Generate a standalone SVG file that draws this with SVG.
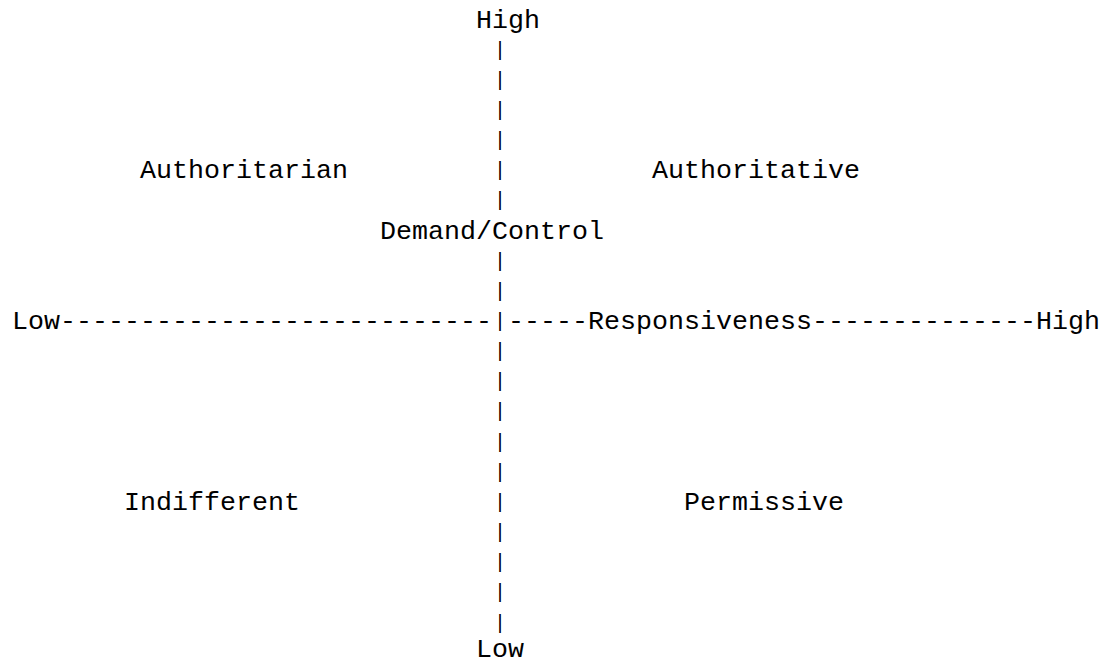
<svg xmlns="http://www.w3.org/2000/svg" width="1102" height="665" viewBox="0 0 1102 665">
<style>
text { font-family: "Liberation Mono", "Courier New", monospace; font-size: 26.667px; fill: #000; white-space: pre; }
text.bar { font-size: 20px; text-anchor: middle; }
</style>
<rect x="0" y="0" width="1102" height="665" fill="#fff"/>
<g id="connectors">
<text class="bar" x="500" y="55.6">|</text>
<text class="bar" x="500" y="85.8">|</text>
<text class="bar" x="500" y="115.9">|</text>
<text class="bar" x="500" y="146.1">|</text>
<text class="bar" x="500" y="176.2">|</text>
<text class="bar" x="500" y="206.4">|</text>
<text class="bar" x="500" y="266.7">|</text>
<text class="bar" x="500" y="296.8">|</text>
<text x="60" y="329">---------------------------</text>
<text class="bar" x="500" y="327">|</text>
<text x="508" y="329">-----</text>
<text x="812" y="329">--------------</text>
<text class="bar" x="500" y="357.1">|</text>
<text class="bar" x="500" y="387.3">|</text>
<text class="bar" x="500" y="417.4">|</text>
<text class="bar" x="500" y="447.6">|</text>
<text class="bar" x="500" y="477.7">|</text>
<text class="bar" x="500" y="507.9">|</text>
<text class="bar" x="500" y="538">|</text>
<text class="bar" x="500" y="568.2">|</text>
<text class="bar" x="500" y="598.3">|</text>
<text class="bar" x="500" y="628.5">|</text>
</g>
<g id="axis-demand-high"><text x="476" y="27.5">High</text></g>
<g id="axis-demand-label"><text x="380" y="238.55">Demand/Control</text></g>
<g id="axis-demand-low"><text x="476" y="657">Low</text></g>
<g id="axis-resp-low"><text x="12" y="329">Low</text></g>
<g id="axis-resp-label"><text x="588" y="329">Responsiveness</text></g>
<g id="axis-resp-high"><text x="1036" y="329">High</text></g>
<g id="authoritarian"><text x="140" y="178.25">Authoritarian</text></g>
<g id="authoritative"><text x="652" y="178.25">Authoritative</text></g>
<g id="indifferent"><text x="124" y="509.9">Indifferent</text></g>
<g id="permissive"><text x="684" y="509.9">Permissive</text></g>
</svg>
